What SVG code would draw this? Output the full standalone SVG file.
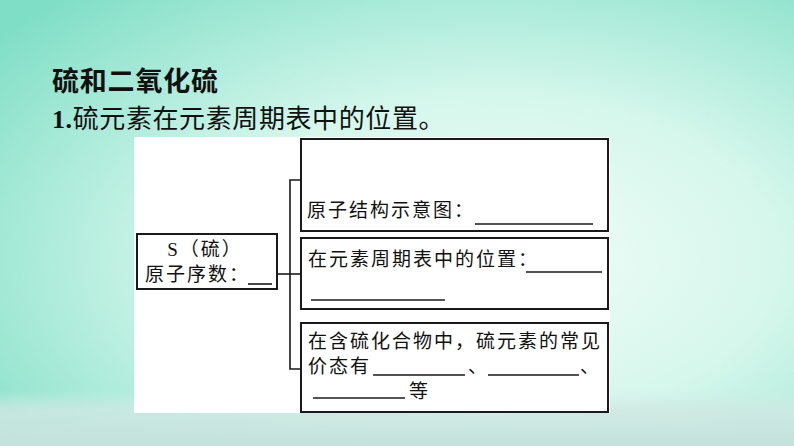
<svg xmlns="http://www.w3.org/2000/svg" width="794" height="446" viewBox="0 0 794 446">
<defs>
<radialGradient id="bg" cx="0.62" cy="0.58" r="0.8">
<stop offset="0" stop-color="#f1fdf8"/>
<stop offset="0.45" stop-color="#d6f7ec"/>
<stop offset="1" stop-color="#7fdec6"/>
</radialGradient>
<linearGradient id="sea" x1="0" y1="0" x2="0" y2="1">
<stop offset="0" stop-color="#d3ece6" stop-opacity="0"/>
<stop offset="0.35" stop-color="#cfe8e2" stop-opacity="0.8"/>
<stop offset="1" stop-color="#c4e2dc" stop-opacity="1"/>
</linearGradient>
<style>
.box{fill:#ffffff;stroke:#1a1a1a;stroke-width:2}
.ln{fill:none;stroke:#1a1a1a;stroke-width:1.6}
.ul{fill:none;stroke:#1a1a1a;stroke-width:1.6}
.t{font-family:"Noto Sans CJK SC","Liberation Sans",sans-serif;font-size:19px;letter-spacing:2px;fill:#111}
.h1{font-family:"Noto Sans CJK SC","Liberation Sans",sans-serif;font-size:27px;font-weight:bold;letter-spacing:0.8px;fill:#111}
.h2{font-family:"Noto Sans CJK SC","Liberation Sans",sans-serif;font-size:26px;letter-spacing:0.6px;fill:#111}
.num{font-family:"Liberation Serif",serif;font-weight:bold}
.ser{font-family:"Liberation Serif","Noto Sans CJK SC",serif}
</style>
</defs>
<rect x="0" y="0" width="794" height="446" fill="url(#bg)"/>
<rect x="0" y="390" width="794" height="56" fill="url(#sea)"/>
<text class="h1" x="52" y="91">硫和二氧化硫</text>
<text class="h2" x="52" y="128"><tspan class="num">1.</tspan>硫元素在元素周期表中的位置。</text>
<rect x="134" y="137" width="476" height="276" fill="#ffffff"/>
<g id="connectors">
<line class="ln" x1="277" y1="274" x2="301" y2="274"/>
<polyline class="ln" points="301,180 290,180 290,369 301,369"/>
</g>
<g id="node-s">
<rect class="box" x="137" y="234" width="140" height="55"/>
<text class="t ser" x="205" y="256" text-anchor="middle" letter-spacing="0" font-size="18">S（硫）</text>
<text class="t" x="145" y="281">原子序数：</text>
<line class="ul" x1="248" y1="284" x2="272" y2="284"/>
</g>
<g id="node-structure">
<rect class="box" x="301" y="139" width="307" height="92"/>
<text class="t" x="307" y="217">原子结构示意图：</text>
<line class="ul" x1="475" y1="224" x2="593" y2="224"/>
</g>
<g id="node-position">
<rect class="box" x="301" y="238" width="307" height="71"/>
<text class="t" x="308" y="266" letter-spacing="1.8">在元素周期表中的位置：</text>
<line class="ul" x1="526" y1="272" x2="602" y2="272"/>
<line class="ul" x1="311" y1="300" x2="445" y2="300"/>
</g>
<g id="node-valence">
<rect class="box" x="301" y="323" width="307" height="89"/>
<text class="t" x="308" y="348" letter-spacing="1.5">在含硫化合物中，硫元素的常见</text>
<text class="t" x="308" y="373">价态有</text>
<line class="ul" x1="373" y1="375" x2="465" y2="375"/>
<text class="t" x="468" y="373">、</text>
<line class="ul" x1="488" y1="375" x2="579" y2="375"/>
<text class="t" x="580" y="373">、</text>
<line class="ul" x1="313" y1="398" x2="405" y2="398"/>
<text class="t" x="409" y="398">等</text>
</g>
</svg>
